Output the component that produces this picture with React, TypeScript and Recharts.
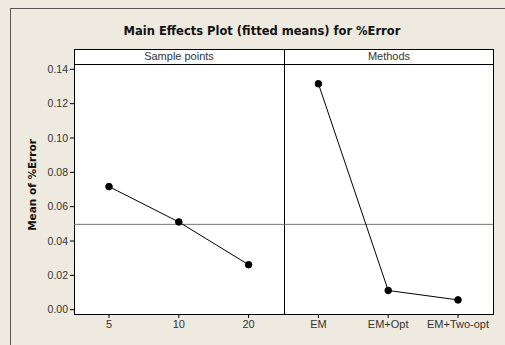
import React from 'react';
import { LineChart, Line, XAxis, YAxis, ReferenceLine } from 'recharts';

const categories = ['5', '10', '20', 'EM', 'EM+Opt', 'EM+Two-opt'];
const samplePoints = [0.0717, 0.0511, 0.0262, null, null, null];
const methods = [null, null, null, 0.1316, 0.0112, 0.0057];
const yTicks = [0, 0.02, 0.04, 0.06, 0.08, 0.1, 0.12, 0.14];
const grandMean = 0.0497;

const data = categories.map((cat, i) => ({ cat, sp: samplePoints[i], m: methods[i] }));

const FONT = '"Liberation Sans", Arial, sans-serif';
const BOLD = '"DejaVu Sans", Verdana, sans-serif';
const BG = '#eeeae0';

export default function App() {
  return (
    <div style={{ position: 'absolute', left: 0, top: 0, width: 505, height: 345, background: BG, fontFamily: FONT, overflow: 'hidden' }}>
      {/* outer frame */}
      <div style={{ position: 'absolute', left: 10, top: 8, width: 600, height: 400, borderLeft: '1px solid #555', borderTop: '1px solid #555' }} />
      <div style={{ position: 'absolute', left: 0, top: 25, width: 524, textAlign: 'center', fontWeight: 'bold', fontSize: 11.5, lineHeight: '12px', fontFamily: BOLD, color: '#111' }}>
        Main Effects Plot (fitted means) for %Error
      </div>
      {/* panel box + strip header */}
      <div style={{ position: 'absolute', left: 74, top: 49, width: 418, height: 264, background: '#fff', border: '1px solid #000' }} />
      <div style={{ position: 'absolute', left: 74, top: 49, width: 420, height: 15, borderBottom: '1px solid #000' }} />
      <div style={{ position: 'absolute', left: 284, top: 49, width: 1, height: 265, background: '#000' }} />
      <div style={{ position: 'absolute', left: 74, top: 49, width: 210, textAlign: 'center', fontSize: 11, color: '#333', lineHeight: '15px' }}>Sample points</div>
      <div style={{ position: 'absolute', left: 284, top: 49, width: 210, textAlign: 'center', fontSize: 11, color: '#333', lineHeight: '15px' }}>Methods</div>
      <div style={{ position: 'absolute', left: 0, top: 0 }}>
        <LineChart width={505} height={345} data={data} margin={{ top: 64, right: 12, bottom: 6, left: 0 }}>
          <XAxis
            dataKey="cat"
            type="category"
            padding={{ left: 35, right: 35 }}
            axisLine={false}
            tickSize={4}
            tickLine={{ stroke: '#000' }}
            tick={{ fill: '#333', fontSize: 11, fontFamily: FONT }}
            height={25}
            interval={0}
          />
          <YAxis
            width={74}
            domain={[-0.0025, 0.1431]}
            ticks={yTicks}
            allowDataOverflow
            axisLine={false}
            tickSize={4}
            tickLine={{ stroke: '#000' }}
            tickFormatter={(v: number) => v.toFixed(2)}
            tick={{ fill: '#333', fontSize: 10.5, fontFamily: FONT }}
            label={{
              content: (props: any) => {
                const vb = props.viewBox;
                const cy = vb.y + vb.height / 2 - 4;
                return (
                  <text
                    x={36}
                    y={cy}
                    transform={`rotate(-90, 36, ${cy})`}
                    textAnchor="middle"
                    fontWeight="bold"
                    fontSize={10.5}
                    fontFamily={BOLD}
                    fill="#111"
                  >
                    Mean of %Error
                  </text>
                );
              },
            }}
          />
          <ReferenceLine y={grandMean} stroke="#777" strokeWidth={1} />
          <Line dataKey="sp" stroke="#000" strokeWidth={1} dot={{ r: 3.3, fill: '#000', stroke: '#000' }} isAnimationActive={false} connectNulls={false} />
          <Line dataKey="m" stroke="#000" strokeWidth={1} dot={{ r: 3.3, fill: '#000', stroke: '#000' }} isAnimationActive={false} connectNulls={false} />
        </LineChart>
      </div>
    </div>
  );
}
